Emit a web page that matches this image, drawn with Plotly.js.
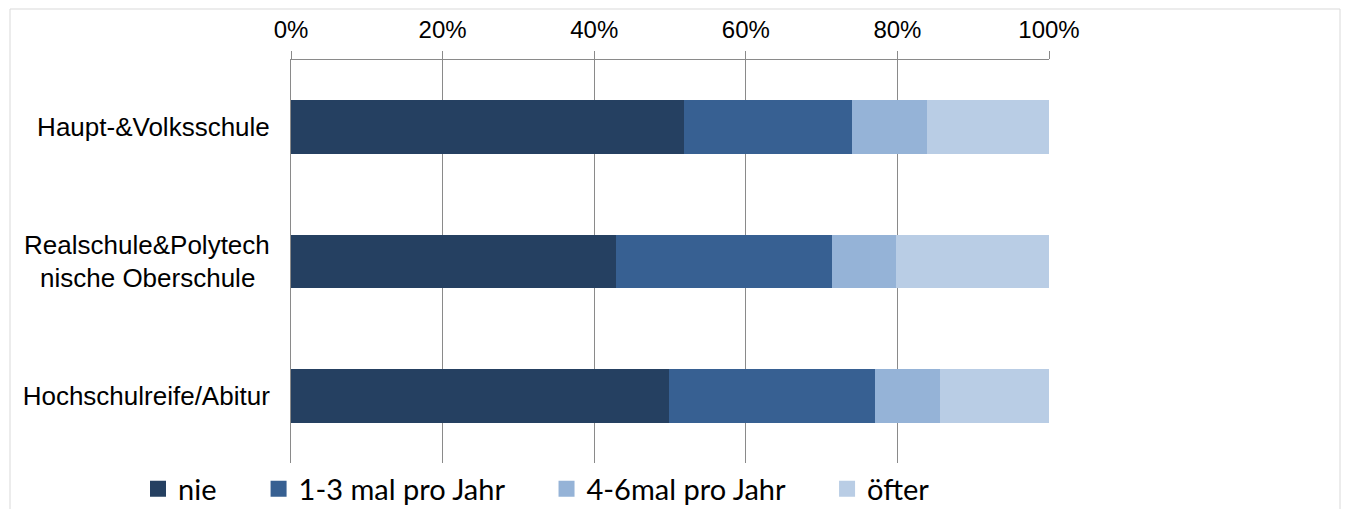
<!DOCTYPE html>
<html>
<head>
<meta charset="utf-8">
<script src="https://cdn.plot.ly/plotly-3.0.1.min.js"></script>
<style>html,body{margin:0;padding:0;background:#fff;}#chart{width:1348px;height:509px;}</style>
</head>
<body>
<div id="chart"></div>
<script>
const NB = "\u00a0";
const categories = ["Haupt-&Volksschule", "Realschule&Polytech<br>nische Oberschule" + NB + NB, "Hochschulreife/Abitur"];
const seriesNames = ["nie", "1-3 mal pro Jahr", "4-6mal pro Jahr", "öfter"];
const nie = [0.519, 0.429, 0.499];
const mal13 = [0.221, 0.285, 0.271];
const mal46 = [0.099, 0.084, 0.086];
const oefter = [0.161, 0.202, 0.144];
const tickVals = [0, 0.2, 0.4, 0.6, 0.8, 1.0];
const tickLabels = ["0%", "20%", "40%", "60%", "80%", "100%"];

const colors = ["#254061", "#376092", "#95B3D7", "#B9CDE5"];
const values = [nie, mal13, mal46, oefter];

const barTraces = values.map((v, i) => ({
  type: "bar",
  orientation: "h",
  name: seriesNames[i],
  legendgroup: "g" + i,
  showlegend: false,
  y: categories,
  x: v,
  marker: {color: colors[i], line: {width: 0}},
  hoverinfo: "x+name"
}));

// legend entries (larger square swatches), no data of their own
const pad = NB.repeat(5);
const legendTraces = seriesNames.map((n, i) => ({
  type: "scatter",
  mode: "markers",
  name: n + (i < seriesNames.length - 1 ? pad : ""),
  legendgroup: "g" + i,
  x: [null],
  y: [null],
  marker: {symbol: "square", size: 16, color: colors[i], line: {width: 0}},
  hoverinfo: "skip"
}));

const L = 291, R = 1049, T = 60, B = 463;
const W = R - L, H = B - T;
const px = x => (x - L) / W;
const py = y => (B - y) / H;

const layout = {
  width: 1348,
  height: 509,
  margin: {l: L, r: 1348 - R, t: T, b: 509 - B, pad: 0, autoexpand: false},
  paper_bgcolor: "#ffffff",
  plot_bgcolor: "#ffffff",
  barmode: "stack",
  bargap: 0.6,
  showlegend: true,
  font: {family: "Liberation Sans, Arial, sans-serif", color: "#000000", size: 24},
  xaxis: {
    side: "top",
    range: [0, 1],
    tickvals: tickVals,
    ticktext: tickLabels,
    showgrid: true,
    gridcolor: "#8a8a8a",
    gridwidth: 1,
    zeroline: false,
    showline: true,
    linecolor: "#8a8a8a",
    linewidth: 1,
    ticks: "outside",
    ticklen: 8,
    tickcolor: "#8a8a8a",
    ticklabelstandoff: 3,
    tickfont: {size: 24, family: "Liberation Sans, Arial, sans-serif"},
    fixedrange: true
  },
  yaxis: {
    type: "category",
    autorange: "reversed",
    showgrid: false,
    zeroline: false,
    showline: true,
    linecolor: "#8a8a8a",
    ticks: "",
    ticklabelstandoff: 15,
    tickfont: {size: 26, family: "Liberation Sans, Arial, sans-serif"},
    fixedrange: true
  },
  legend: {
    orientation: "h",
    traceorder: "normal",
    x: px(138),
    xanchor: "left",
    y: py(489),
    yanchor: "middle",
    font: {family: "Lato, Carlito, sans-serif", size: 29, color: "#000000"},
    itemwidth: 30,
    itemclick: false,
    itemdoubleclick: false,
    bgcolor: "rgba(0,0,0,0)"
  },
  shapes: [{
    type: "rect",
    xref: "paper", yref: "paper",
    x0: px(10), x1: px(1340), y0: py(530), y1: py(9),
    line: {color: "#d9d9d9", width: 1},
    fillcolor: "rgba(0,0,0,0)",
    layer: "below"
  }]
};

Plotly.newPlot("chart", barTraces.concat(legendTraces), layout, {displayModeBar: false, staticPlot: true});
</script>
</body>
</html>
